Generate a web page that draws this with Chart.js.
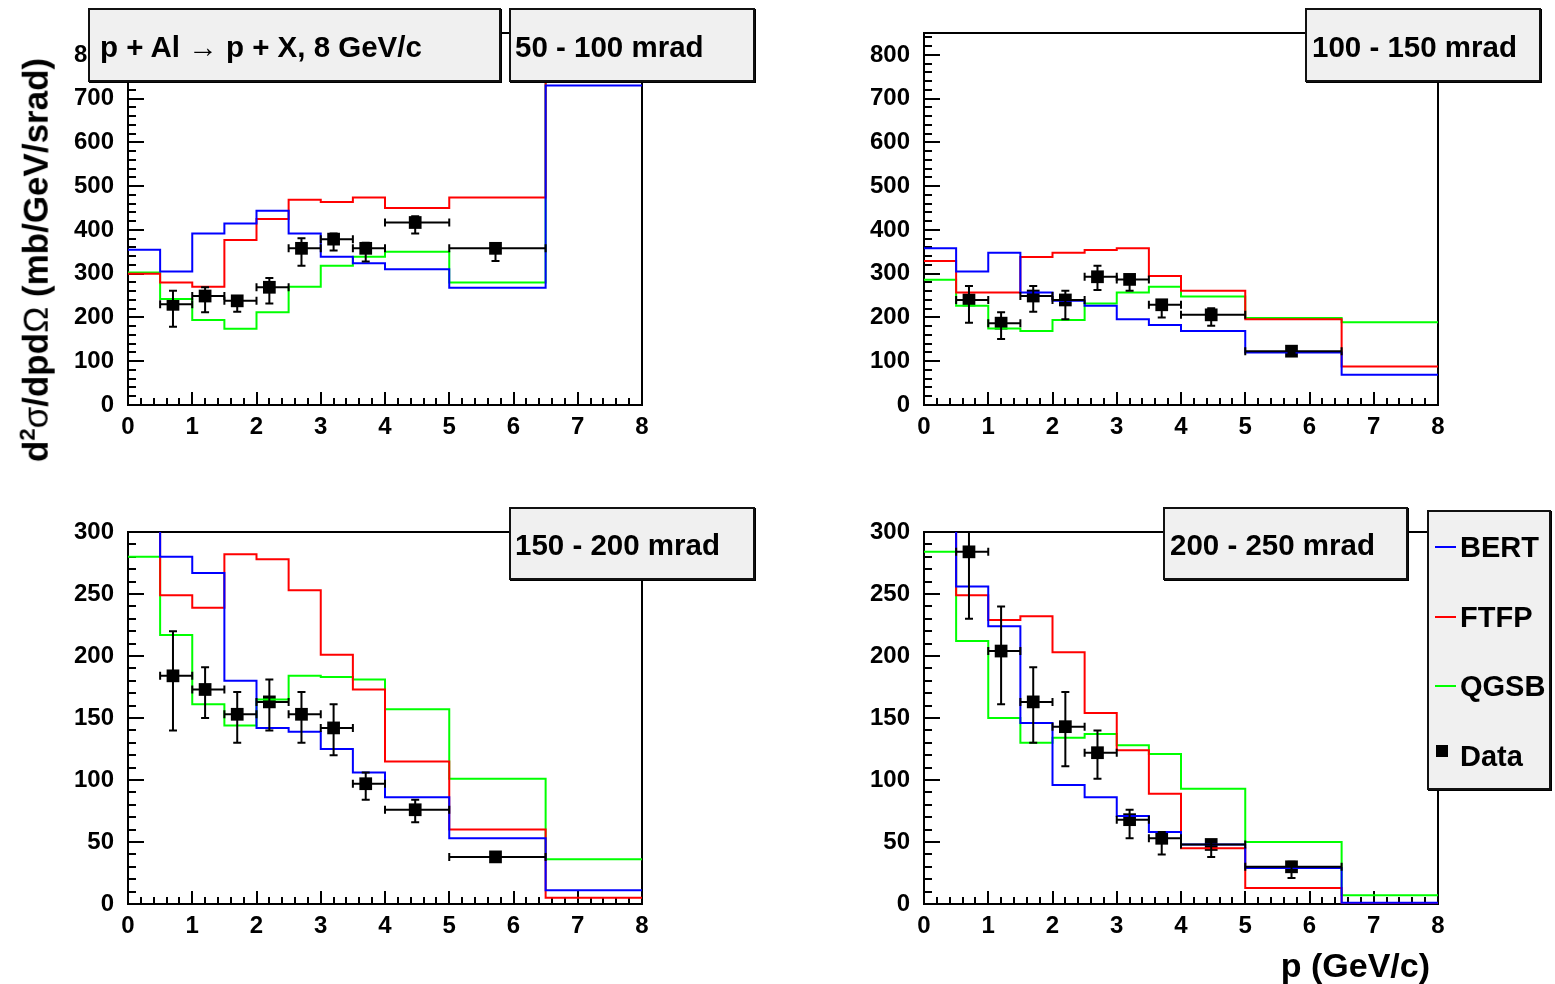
<!DOCTYPE html>
<html>
<head>
<meta charset="utf-8">
<script src="https://cdn.jsdelivr.net/npm/chart.js@4.4.1/dist/chart.umd.min.js"></script>
<style>
    body { margin: 0; background: #fff; width: 1555px; height: 984px; overflow: hidden; position: relative; font-family: "Liberation Sans", Arial, sans-serif; }
    canvas { position: absolute; }
    .pave { position: absolute; background: #f0f0f0; border: 2px solid #111; box-sizing: border-box; box-shadow: 1px 1px 0 #000;
            font-weight: bold; font-size: 29.5px; display: flex; align-items: center; white-space: nowrap; padding-top: 3px; }
    .sym { font-weight: normal; }
    .legend { position: absolute; left: 1427px; top: 510px; width: 124px; height: 280px; background: #f0f0f0; border: 2px solid #111;
              box-sizing: border-box; box-shadow: 1px 1px 0 #000; }
    .entry { position: absolute; left: 31px; font-weight: bold; font-size: 29px; transform: translateY(-50%); }
    .sample { position: absolute; left: 6px; width: 21px; height: 2px; }
</style>
</head>
<body>
<canvas id="c1" width="700" height="460" style="left:0px;top:0px"></canvas>
<canvas id="c2" width="700" height="460" style="left:796px;top:0px"></canvas>
<canvas id="c3" width="700" height="460" style="left:0px;top:500px"></canvas>
<canvas id="c4" width="700" height="460" style="left:796px;top:500px"></canvas>

<!-- Title boxes -->
<div class="pave" style="left:88px;top:8px;width:413px;height:74px;padding-left:10px">p + Al <span class="sym">&nbsp;&rarr;&nbsp;</span> p + X, 8 GeV/c</div>
<div class="pave" style="left:509px;top:8px;width:246px;height:74px;padding-left:4px">50 - 100 mrad</div>
<div class="pave" style="left:1305px;top:8px;width:236px;height:74px;padding-left:5px">100 - 150 mrad</div>
<div class="pave" style="left:509px;top:507px;width:246px;height:73px;padding-left:4px">150 - 200 mrad</div>
<div class="pave" style="left:1163px;top:507px;width:245px;height:73px;padding-left:5px">200 - 250 mrad</div>

<!-- Legend -->
<div class="legend">
    <div class="sample" style="top:34px;background:#0000ff"></div><div class="entry" style="top:35px">BERT</div>
    <div class="sample" style="top:104px;background:#ff0000"></div><div class="entry" style="top:105px">FTFP</div>
    <div class="sample" style="top:173px;background:#00ff00"></div><div class="entry" style="top:174px">QGSB</div>
    <div style="position:absolute;left:7px;top:233px;width:12px;height:12px;background:#000"></div><div class="entry" style="top:244px">Data</div>
</div>

<!-- Axis titles -->
<div style="position:absolute;left:35px;top:260px;transform:translate(-50%,-50%) rotate(-90deg);white-space:nowrap;font-weight:bold;font-size:35px">
    d<sup style="font-size:22px">2</sup><span class="sym">&sigma;</span>/dpd<span class="sym">&Omega;</span> (mb/GeV/srad)
</div>
<div style="position:absolute;right:125px;top:965px;transform:translateY(-50%);white-space:nowrap;font-weight:bold;font-size:34px">p (GeV/c)</div>

<script>
// bin edges in p (GeV/c), shared by all panels
const edges = [0, 0.5, 1, 1.5, 2, 2.5, 3, 3.5, 4, 5, 6.5, 8];

// data points: x position and horizontal extent
const dataX = [0.7, 1.2, 1.7, 2.2, 2.7, 3.2, 3.7, 4.47, 5.72];
const dataXLo = [0.5, 1, 1.5, 2, 2.5, 3, 3.5, 4, 5];
const dataXHi = [1, 1.5, 2, 2.5, 3, 3.5, 4, 5, 6.5];

// 50 - 100 mrad
const bert1 = [355, 305, 392, 415, 444, 392, 339, 324, 310, 268, 730];
const ftfp1 = [300, 280, 270, 377, 425, 469, 464, 474, 450, 474, 900];
const qgsb1 = [303, 242, 194, 174, 212, 270, 318, 339, 350, 280, 1000];
const data1 = [230, 249, 238, 269, 358, 379, 358, 417, 358];
const up1 = [31, 20, 10, 21, 23, 13, 13, 14, 10];
const dn1 = [51, 37, 25, 37, 40, 26, 30, 25, 29];

// 100 - 150 mrad
const bert2 = [358, 305, 348, 257, 238, 227, 196, 183, 169, 120, 69];
const ftfp2 = [329, 257, 257, 338, 348, 354, 358, 295, 261, 196, 88];
const qgsb2 = [286, 227, 175, 169, 194, 232, 257, 270, 248, 199, 189];
const data2 = [240, 187, 249, 240, 293, 287, 229, 206, 123];
const up2 = [32, 25, 23, 21, 25, 8, 10, 15, 5];
const dn2 = [52, 36, 36, 44, 30, 26, 29, 25, 5];

// 150 - 200 mrad
const bert3 = [330, 280, 267, 180, 142, 139, 125, 106, 86, 53, 11];
const ftfp3 = [340, 249, 239, 282, 278, 253, 201, 173, 115, 60, 5];
const qgsb3 = [280, 217, 161, 144, 165, 184, 183, 181, 157, 101, 36];
const data3 = [184, 173, 153, 163, 153, 142, 97, 76, 38];
const up3 = [36, 18, 18, 18, 18, 19, 9, 8, 3];
const dn3 = [44, 23, 23, 23, 23, 22, 13, 10, 3];

// 200 - 250 mrad
const bert4 = [320, 256, 224, 146, 96, 86, 71, 58, 48, 29, 1];
const ftfp4 = [340, 249, 229, 232, 203, 154, 124, 89, 45, 13, 0];
const qgsb4 = [284, 212, 150, 130, 134, 137, 128, 121, 93, 50, 7];
const data4 = [284, 204, 163, 143, 122, 68, 53, 48, 30];
const up4 = [30, 36, 28, 28, 18, 8, 5, 3, 4];
const dn4 = [54, 43, 33, 32, 21, 15, 13, 10, 9];

const tickFont = { family: "'Liberation Sans', Arial, sans-serif", weight: 'bold', size: 24 };

// histogram -> step line points (one point per lower edge, plus the last upper edge)
function histPoints(vals) {
    const pts = vals.map((v, i) => ({ x: edges[i], y: v }));
    pts.push({ x: edges[edges.length - 1], y: vals[vals.length - 1] });
    return pts;
}

// ROOT-like frame with inward ticks, plus asymmetric error bars
const rootFrame = {
    id: 'rootFrame',
    beforeDatasetsDraw(chart, args, opts) {
        const { ctx, chartArea: a, scales: { x, y } } = chart;
        ctx.save();
        ctx.strokeStyle = '#000';
        ctx.lineWidth = 2;
        ctx.strokeRect(a.left, a.top, a.right - a.left, a.bottom - a.top);
        ctx.beginPath();
        for (let v = y.min; v <= y.max + 1e-9; v += opts.yMinor) {
            const py = Math.round(y.getPixelForValue(v));
            const major = Math.abs(v / opts.yMajor - Math.round(v / opts.yMajor)) < 1e-6;
            ctx.moveTo(a.left, py);
            ctx.lineTo(a.left + (major ? 16 : 8), py);
        }
        for (let v = x.min; v <= x.max + 1e-9; v += opts.xMinor) {
            const px = Math.round(x.getPixelForValue(v));
            const major = Math.abs(v - Math.round(v)) < 1e-6;
            ctx.moveTo(px, a.bottom);
            ctx.lineTo(px, a.bottom - (major ? 13 : 7));
        }
        ctx.stroke();
        ctx.restore();
    },
    afterDatasetsDraw(chart) {
        const { ctx, chartArea: a, scales: { x, y } } = chart;
        ctx.save();
        ctx.beginPath();
        ctx.rect(a.left, a.top, a.right - a.left, a.bottom - a.top);
        ctx.clip();
        ctx.strokeStyle = '#000';
        ctx.lineWidth = 2;
        chart.data.datasets.forEach(ds => {
            if (!ds.errUp) return;
            ds.data.forEach((p, i) => {
                const px = x.getPixelForValue(p.x);
                const py = y.getPixelForValue(p.y);
                const x0 = x.getPixelForValue(ds.xLo[i]);
                const x1 = x.getPixelForValue(ds.xHi[i]);
                const yTop = y.getPixelForValue(p.y + ds.errUp[i]);
                const yBot = y.getPixelForValue(p.y - ds.errDn[i]);
                ctx.beginPath();
                ctx.moveTo(x0, py); ctx.lineTo(x1, py);
                ctx.moveTo(x0, py - 4); ctx.lineTo(x0, py + 4);
                ctx.moveTo(x1, py - 4); ctx.lineTo(x1, py + 4);
                ctx.moveTo(px, yTop); ctx.lineTo(px, yBot);
                ctx.moveTo(px - 4, yTop); ctx.lineTo(px + 4, yTop);
                ctx.moveTo(px - 4, yBot); ctx.lineTo(px + 4, yBot);
                ctx.stroke();
            });
        });
        ctx.restore();
    }
};

function makePanel(id, bert, ftfp, qgsb, data, up, dn, yMax, yStep, pad) {
    const histo = (vals, color) => ({
        type: 'line',
        data: histPoints(vals),
        borderColor: color,
        borderWidth: 2,
        stepped: 'before',
        pointRadius: 0,
        fill: false
    });
    return new Chart(document.getElementById(id), {
        type: 'scatter',
        data: {
            datasets: [
                histo(bert, '#0000ff'),
                histo(ftfp, '#ff0000'),
                histo(qgsb, '#00ff00'),
                {
                    type: 'scatter',
                    data: dataX.map((x, i) => ({ x: x, y: data[i] })),
                    errUp: up, errDn: dn, xLo: dataXLo, xHi: dataXHi,
                    pointStyle: 'rect',
                    pointRadius: 9,
                    backgroundColor: '#000',
                    borderColor: '#000',
                    borderWidth: 0
                }
            ]
        },
        options: {
            responsive: false,
            animation: false,
            devicePixelRatio: 1,
            layout: { padding: { left: 0, top: pad.top, right: pad.right, bottom: 0 } },
            plugins: {
                legend: { display: false },
                tooltip: { enabled: false },
                rootFrame: { yMinor: yStep / 5, yMajor: yStep, xMinor: 0.2 }
            },
            scales: {
                x: {
                    type: 'linear', min: 0, max: 8,
                    grid: { display: false },
                    border: { display: false },
                    ticks: { stepSize: 1, color: '#000', font: tickFont, padding: 0, maxRotation: 0 },
                    afterFit(s) { s.height = pad.bottom; }
                },
                y: {
                    type: 'linear', min: 0, max: yMax,
                    grid: { display: false },
                    border: { display: false },
                    ticks: { stepSize: yStep, includeBounds: false, color: '#000', font: tickFont, padding: 6 },
                    afterBuildTicks(s) { s.ticks = s.ticks.filter(t => t.value % yStep === 0); },
                    afterFit(s) { s.width = 128; }
                }
            }
        },
        plugins: [rootFrame]
    });
}

makePanel('c1', bert1, ftfp1, qgsb1, data1, up1, dn1, 850, 100, { top: 33, right: 58, bottom: 55 });
makePanel('c2', bert2, ftfp2, qgsb2, data2, up2, dn2, 850, 100, { top: 33, right: 58, bottom: 55 });
makePanel('c3', bert3, ftfp3, qgsb3, data3, up3, dn3, 300, 50, { top: 32, right: 58, bottom: 56 });
makePanel('c4', bert4, ftfp4, qgsb4, data4, up4, dn4, 300, 50, { top: 32, right: 58, bottom: 56 });
</script>
</body>
</html>
